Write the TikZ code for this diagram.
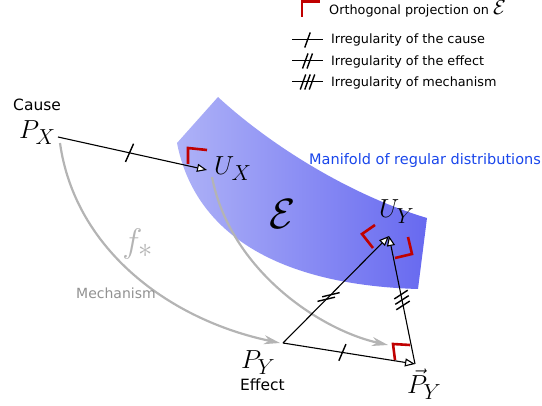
\documentclass[tikz,border=0pt]{standalone}
\usepackage{fontspec}
\setmainfont{DejaVu Sans}
\usetikzlibrary{arrows.meta,decorations.markings}
\definecolor{bandL}{RGB}{174,178,247}
\definecolor{bandR}{RGB}{103,105,240}
\definecolor{projred}{RGB}{192,0,0}
\definecolor{arcgray}{RGB}{180,180,180}
\definecolor{mechgray}{RGB}{145,145,145}
\definecolor{manblue}{RGB}{25,70,235}
\tikzset{
  lbl/.style={inner sep=0pt, anchor=base west},
  mathlbl/.style={lbl, font=\Huge, scale=1.05},
  txt/.style={lbl, font=\fontsize{15.5}{18}\selectfont},
  legtxt/.style={lbl, font=\fontsize{12.8}{15}\selectfont},
  conn/.style={line width=1.1pt, -{Triangle[fill=white,length=10pt,width=8pt]}},
  grayarc/.style={draw=arcgray, line width=2.2pt, -{Stealth[length=16pt,width=9pt,inset=5pt]}},
  projc/.style={draw=projred, line width=2.6pt},
  % irr={position}{count}{bar angle}{path angle}{spacing}{half length}, angles absolute (y up)
  irr/.style n args={6}{postaction={decorate,decoration={markings,
    mark=at position #1 with {
      \pgftransformresetnontranslations
      \foreach \k in {1,...,#2}{
        \draw[black,line width=1.4pt,-,shift={(#4:{(\k-(#2+1)/2)*#5})},rotate=#3] (-#6,0pt) -- (#6,0pt);
      }}}}},
}
\begin{document}
\begin{tikzpicture}[x=1pt,y=-1pt]
\useasboundingbox (0,0) rectangle (542,406);

% manifold band
\shade[left color=bandL, right color=bandR]
  (218,97) .. controls (270,145) and (350,195) .. (427,218)
  -- (418,289) .. controls (280,285) and (195,235) .. (177,143) -- cycle;

% key points
\coordinate (px) at (58,137);
\coordinate (ux) at (207,170);
\coordinate (py) at (283,343);
\coordinate (pyv) at (415,364);
\coordinate (uy) at (389,236);
\coordinate (mA) at (60,143);
\coordinate (mB) at (280,343);
\coordinate (uA) at (212,177);
\coordinate (uB) at (388,345);

% gray mechanism arcs
\draw[grayarc] (mA) .. controls (75,250) and (170,320) .. (mB);
\draw[grayarc] (uA) .. controls (230,270) and (320,330) .. (uB);

% black connectors
\draw[conn, irr={0.48}{1}{66}{-12.5}{6.5pt}{10pt}] (px) -- (ux);
\draw[conn, irr={0.45}{1}{67}{-9}{6.5pt}{9pt}] (py) -- (pyv);
\draw[conn, irr={0.43}{2}{13.5}{44.5}{6.5pt}{9pt}] (py) -- (uy);
\draw[conn, irr={0.5}{3}{33}{100.8}{5.5pt}{8pt}] (pyv) -- (uy);

% projection corners
\draw[projc] (188,164) -- (188,148) -- (207,150);
\draw[projc] (373,248) -- (362,234) -- (375,225);
\draw[projc] (395,258) -- (412,254) -- (408,237);
\draw[projc] (395,360) -- (393,344) -- (410,345);

% labels
\node[txt] (cause) at (13,111) {Cause};
\node[mathlbl] (lpx) at (19,139) {$P_X$};
\node[mathlbl] (lux) at (214,175) {$U_X$};
\node[mathlbl] (luy) at (379,218) {$U_Y$};
\node[mathlbl] (lpy) at (241,369) {$P_Y$};
\node[txt] (effect) at (240,391) {Effect};
\node[mathlbl] (lpyv) at (407,394) {$\vec{P}_Y$};
\node[inner sep=0pt, font=\Huge, scale=1.7] (lE) at (283,214) {$\mathcal{E}$};
\node[inner sep=0pt, text=arcgray, font=\Huge, scale=1.37] (lf) at (138,244) {$f_*$};
\node[lbl, text=mechgray, font=\fontsize{14}{16}\selectfont] (mech) at (76,299) {Mechanism};
\node[lbl, text=manblue, font=\fontsize{14.5}{17}\selectfont] (manif) at (309,165) {Manifold of regular distributions};

% legend
\draw[projc] (302,17) -- (302,1.5) -- (320,1.5);
\node[legtxt] (leg0) at (329,15) {Orthogonal projection on {\huge$\mathcal{E}$}};
\coordinate (l1a) at (292,40); \coordinate (l1b) at (323,40);
\coordinate (l2a) at (292,61); \coordinate (l2b) at (323,61);
\coordinate (l3a) at (292,82); \coordinate (l3b) at (323,82);
\draw[line width=1pt, irr={0.5}{1}{70}{0}{4.5pt}{8pt}] (l1a) -- (l1b);
\draw[line width=1pt, irr={0.5}{2}{70}{0}{4.5pt}{8pt}] (l2a) -- (l2b);
\draw[line width=1pt, irr={0.5}{3}{70}{0}{4.5pt}{8pt}] (l3a) -- (l3b);
\node[legtxt] (leg1) at (331,44) {Irregularity of the cause};
\node[legtxt] (leg2) at (331,66) {Irregularity of the effect};
\node[legtxt] (leg3) at (331,87) {Irregularity of mechanism};
\end{tikzpicture}
\end{document}
